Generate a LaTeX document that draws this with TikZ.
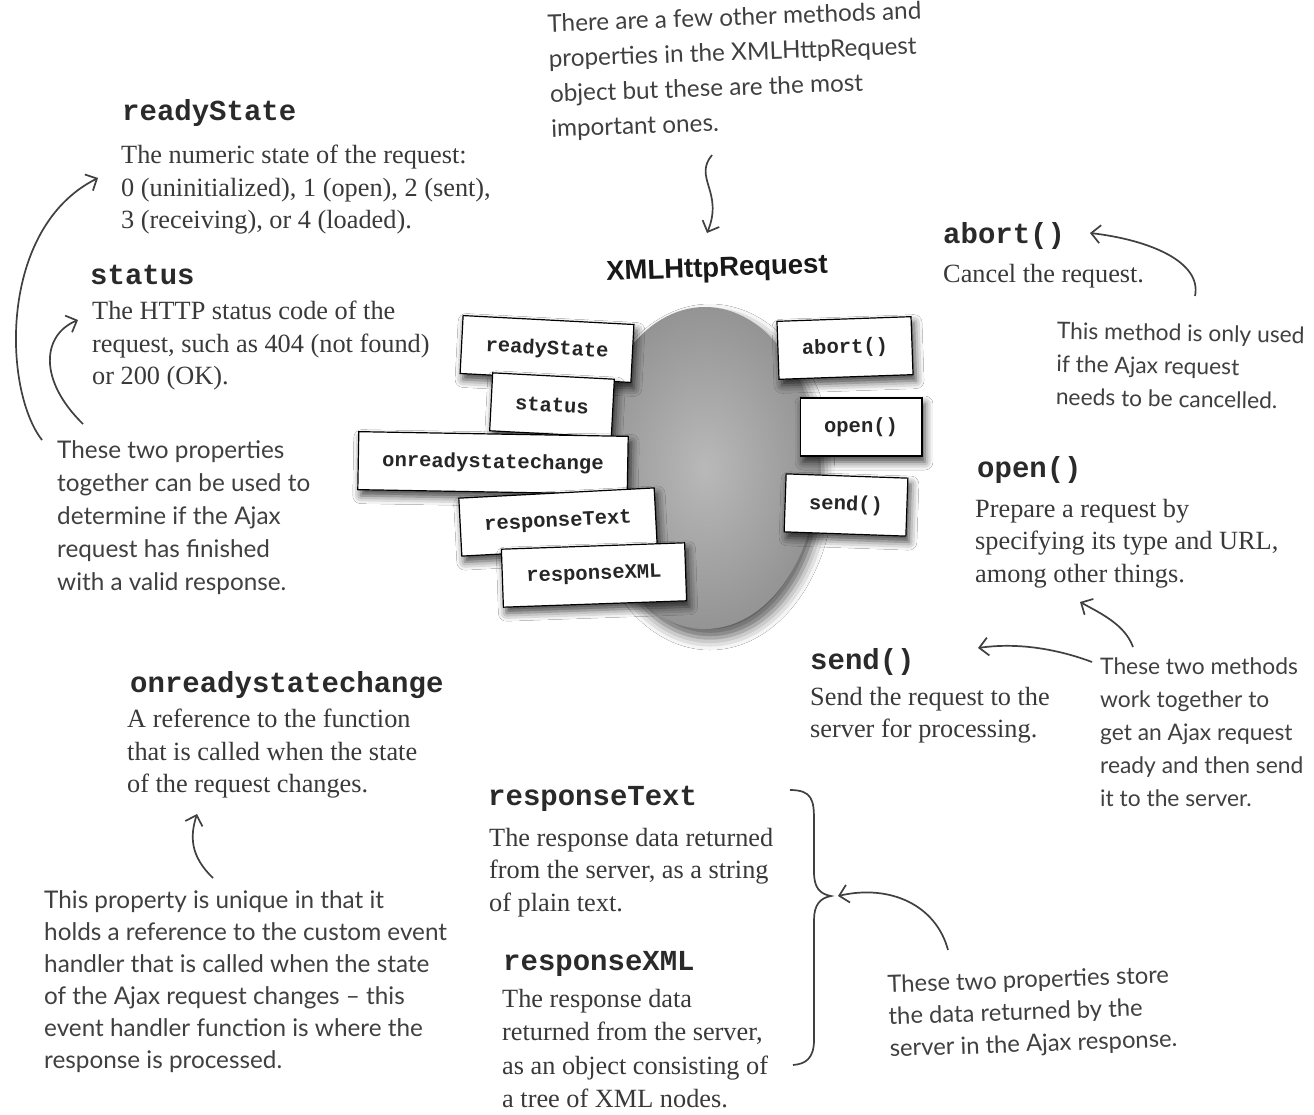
\documentclass[tikz,border=0pt]{standalone}
\usepackage{fontspec}
\setmainfont{Liberation Serif}
\newfontfamily\handfont{Lato}
\newfontfamily\codefont{Liberation Mono}
\newfontfamily\labelfont{Liberation Sans}
\usetikzlibrary{arrows.meta,shapes.geometric,shadows.blur}

\definecolor{ink}{HTML}{393939}
\definecolor{hand}{HTML}{404040}
\definecolor{headink}{HTML}{2A2A2A}

\tikzset{
  prop/.style={anchor=north west, inner sep=0pt, text=headink,
    font=\codefont\bfseries\fontsize{29}{29}\selectfont},
  desc/.style={anchor=north west, inner sep=0pt, align=left, text=ink,
    font=\fontsize{26.3}{32.5}\selectfont},
  note/.style={anchor=north west, inner sep=0pt, align=left, text=hand,
    font=\handfont\fontsize{24.3}{33}\selectfont},
  member/.style={draw=black, line width=1.2pt, fill=white, text=black!85,
    font=\codefont\bfseries\fontsize{20.5}{20.5}\selectfont,
    inner xsep=24pt, minimum height=58pt,
    blur shadow={shadow xshift=3pt, shadow yshift=-6pt,
      shadow blur radius=8pt, shadow opacity=75}},
  handarrow/.style={draw=hand, line width=1.7pt,
    -{Straight Barb[length=9pt,width=18pt]}},
}

\begin{document}
\begin{tikzpicture}[x=1pt,y=-1pt]
\useasboundingbox[fill=white] (0,0) rectangle (1314,1115);

% ---- central object ----
\node[ellipse, minimum width=226pt, minimum height=322pt, inner sep=0pt,
      shade, inner color=gray!55, outer color=gray!84,
      blur shadow={shadow xshift=5pt, shadow yshift=-9pt, shadow blur radius=12pt, shadow opacity=65}]
      (blob) at (705,468) {};
\node[font=\labelfont\bfseries\fontsize{27.5}{27.5}\selectfont, text=black!90, rotate=2] (title) at (717,270) {XMLHttpRequest};

\node[member, rotate=-3] (bReady)  at (547,349) {readyState};
\node[member, rotate=-3] (bStatus) at (552,405) {status};
\node[member, rotate=-1] (bOnrsc)  at (493,463) {onreadystatechange};
\node[member, rotate=3]  (bRText)  at (558,522) {responseText};
\node[member, rotate=2]  (bRXml)   at (594,575) {responseXML};
\node[member, rotate=2]  (bAbort)  at (845,348) {abort()};
\node[member, rotate=0]  (bOpen)   at (861,427) {open()};
\node[member, rotate=-2] (bSend)   at (846,505) {send()};

% ---- top note ----
\node[note, rotate=2, font=\handfont\fontsize{24.3}{35}\selectfont] (topnote) at (547,14)
  {There are a few other methods and\\properties in the XMLHttpRequest\\object but these are the most\\important ones.};
\coordinate (topA) at (712,155);
\coordinate (topB) at (707,233);
\draw[handarrow] (topA) .. controls (693,178) and (724,192) .. (topB);

% ---- readyState / status ----
\node[prop] (hReady) at (122,99) {readyState};
\node[desc] (dReady) at (121,145)
  {The numeric state of the request:\\0 (uninitialized), 1 (open), 2 (sent),\\3 (receiving), or 4 (loaded).};
\node[prop] (hStatus) at (90,265) {status};
\node[desc] (dStatus) at (92,301)
  {The HTTP status code of the\\request, such as 404 (not found)\\or 200 (OK).};
\node[note] (noteRS) at (57,440)
  {These two properties\\together can be used to\\determine if the Ajax\\request has finished\\with a valid response.};
\coordinate (rsA) at (42,440);
\coordinate (rsB) at (98,178);
\coordinate (stA) at (83,424);
\coordinate (stB) at (78,320);
\draw[handarrow] (rsA) .. controls (3,390) and (-2,228) .. (rsB);
\draw[handarrow] (stA) .. controls (38,380) and (42,335) .. (stB);

% ---- abort ----
\node[prop] (hAbort) at (943,222) {abort()};
\node[desc] (dAbort) at (943,264) {Cancel the request.};
\node[note, rotate=-1, font=\handfont\fontsize{22.8}{33}\selectfont] (noteAbort) at (1057,322)
  {This method is only used\\if the Ajax request\\needs to be cancelled.};
\coordinate (abA) at (1195,296);
\coordinate (abB) at (1090,233);
\draw[handarrow] (abA) .. controls (1202,262) and (1150,240) .. (abB);

% ---- open / send ----
\node[prop] (hOpen) at (977,456) {open()};
\node[desc] (dOpen) at (975,499)
  {Prepare a request by\\specifying its type and URL,\\among other things.};
\node[prop] (hSend) at (810,648) {send()};
\node[desc] (dSend) at (810,687)
  {Send the request to the\\server for processing.};
\node[note, font=\handfont\fontsize{22.8}{33}\selectfont] (noteOS) at (1100,658)
  {These two methods\\work together to\\get an Ajax request\\ready and then send\\it to the server.};
\coordinate (opA) at (1133,647);
\coordinate (opB) at (1080,602);
\coordinate (seA) at (1092,662);
\coordinate (seB) at (978,648);
\draw[handarrow] (opA) .. controls (1125,625) and (1102,614) .. (opB);
\draw[handarrow] (seA) .. controls (1060,650) and (1020,642) .. (seB);

% ---- onreadystatechange ----
\node[prop] (hOnrsc) at (130,671) {onreadystatechange};
\node[desc] (dOnrsc) at (127,709)
  {A reference to the function\\that is called when the state\\of the request changes.};
\node[note, font=\handfont\fontsize{24.3}{32}\selectfont] (noteOn) at (44,890)
  {This property is unique in that it\\holds a reference to the custom event\\handler that is called when the state\\of the Ajax request changes – this\\event handler function is where the\\response is processed.};
\coordinate (onA) at (213,878);
\coordinate (onB) at (197,814);
\draw[handarrow] (onA) .. controls (190,856) and (190,836) .. (onB);

% ---- responseText / responseXML ----
\node[prop] (hRText) at (488,786) {responseText};
\node[desc] (dRText) at (489,828)
  {The response data returned\\from the server, as a string\\of plain text.};
\node[prop] (hRXml) at (503,951) {responseXML};
\node[desc, font=\fontsize{26.3}{33.5}\selectfont] (dRXml) at (502,989)
  {The response data\\returned from the server,\\as an object consisting of\\a tree of XML nodes.};

\coordinate (brTop) at (790,790);
\coordinate (brTip) at (831,896);
\coordinate (brBot) at (793,1065);
\draw[hand, line width=1.7pt] (brTop) .. controls (812,790) and (814,800) .. (814,820)
  -- (814,872) .. controls (814,888) and (820,894) .. (brTip)
  .. controls (820,898) and (814,905) .. (814,920)
  -- (814,1040) .. controls (814,1058) and (806,1064) .. (brBot);

\node[note, rotate=2, font=\handfont\fontsize{23.8}{32}\selectfont] (noteData) at (887,975)
  {These two properties store\\the data returned by the\\server in the Ajax response.};
\coordinate (daA) at (948,950);
\coordinate (daB) at (838,896);
\draw[handarrow] (daA) .. controls (936,905) and (890,884) .. (daB);
\end{tikzpicture}
\end{document}
